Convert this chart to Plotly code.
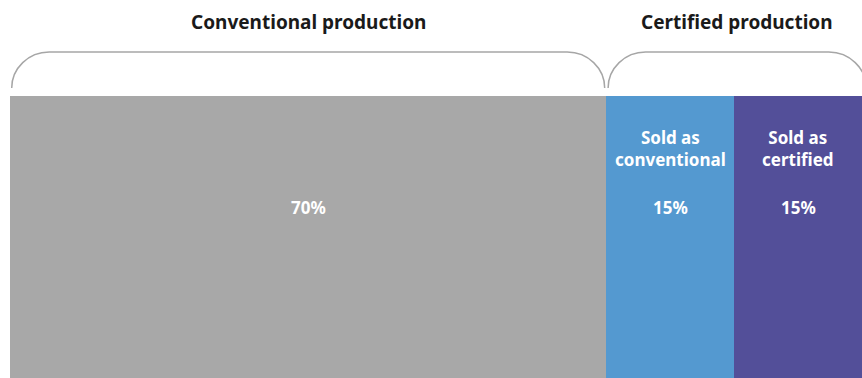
import plotly.graph_objects as go

# Data
segments = ["Conventional", "Sold as conventional", "Sold as certified"]
shares = [70, 15, 15]
labels = ["70%", "15%", "15%"]
sub_labels = ["", "Sold as<br>conventional", "Sold as<br>certified"]
colors = ["#a8a8a8", "#5499d0", "#534f99"]
groups = ["Conventional production", "Certified production"]
group_spans = [(0, 1), (1, 3)]  # segment index ranges

fig = go.Figure()
for name, v, c in zip(segments, shares, colors):
    fig.add_trace(go.Bar(
        y=["share"], x=[v], orientation="h", name=name,
        marker=dict(color=c, line=dict(width=0)),
        hoverinfo="skip", showlegend=False,
    ))

# cumulative positions
starts = []
acc = 0
for v in shares:
    starts.append(acc)
    acc += v
ends = [s + v for s, v in zip(starts, shares)]

annotations = []
font_in = dict(family="Noto Sans, Open Sans, sans-serif", size=17, color="white", weight="bold")
for i in range(len(shares)):
    cx = (starts[i] + ends[i]) / 2
    annotations.append(dict(x=cx, y=0.606, xref="x", yref="paper", text=labels[i],
                            showarrow=False, font=font_in, xanchor="center", yanchor="middle"))
    if sub_labels[i]:
        annotations.append(dict(x=cx, y=0.814, xref="x", yref="paper", text=sub_labels[i],
                                showarrow=False, font=font_in, xanchor="center", yanchor="middle"))

# brackets and group titles
shapes = []
yb, yt = 1.028, 1.156
rx, ry = 4.4, 0.128
gap = 0.2
for gi, (a, b) in enumerate(group_spans):
    x0 = starts[a] + gap
    x1 = ends[b - 1] - gap if b < len(shares) else ends[b - 1] + 0.5
    k = 0.55
    path = (f"M {x0},{yb} C {x0},{yb + ry * k} {x0 + rx * (1 - k)},{yt} {x0 + rx},{yt} "
            f"L {x1 - rx},{yt} C {x1 - rx * (1 - k)},{yt} {x1},{yb + ry * k} {x1},{yb}")
    shapes.append(dict(type="path", path=path, xref="x", yref="paper",
                       line=dict(color="#a6a6a6", width=1.5)))
    annotations.append(dict(x=(x0 + x1) / 2, y=1.262, xref="x", yref="paper", text=groups[gi],
                            showarrow=False, xanchor="center", yanchor="middle",
                            font=dict(family="Noto Sans, Open Sans, sans-serif", size=19,
                                      color="#1a1a1a", weight="bold")))

fig.update_layout(
    width=862, height=378,
    margin=dict(l=10, r=0, t=96, b=0),
    barmode="stack", bargap=0,
    paper_bgcolor="white", plot_bgcolor="white",
    xaxis=dict(range=[0, 100], visible=False, fixedrange=True),
    yaxis=dict(visible=False, fixedrange=True),
    annotations=annotations, shapes=shapes,
)

fig.write_html(
    "out.html",
    config={"displayModeBar": False},
    post_script=("document.documentElement.style.overflow='hidden';"
                 "document.body.style.margin='0';document.body.style.overflow='hidden';"),
)
